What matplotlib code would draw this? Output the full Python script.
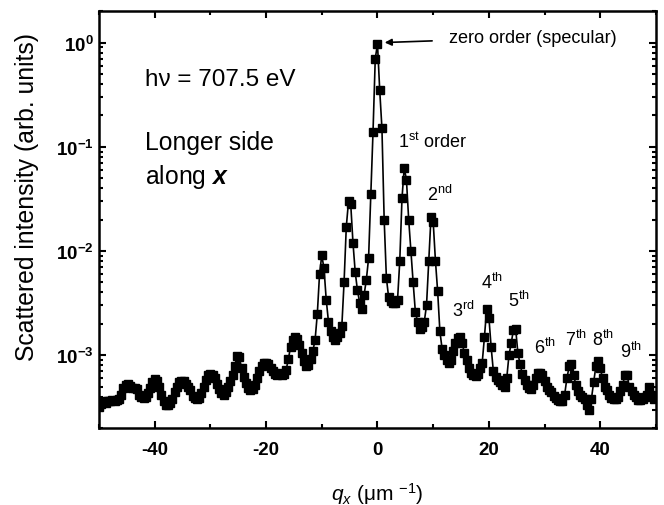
import matplotlib
matplotlib.use("Agg")
import matplotlib.pyplot as plt
import numpy as np
from matplotlib.ticker import MultipleLocator, LogLocator, FuncFormatter, NullFormatter

plt.rcParams['font.family'] = ['Liberation Sans', 'DejaVu Sans']
plt.rcParams['axes.unicode_minus'] = False
plt.rcParams['mathtext.fontset'] = 'custom'
plt.rcParams['mathtext.rm'] = 'Liberation Sans'
plt.rcParams['mathtext.it'] = 'Liberation Sans:italic'
plt.rcParams['mathtext.bf'] = 'Liberation Sans:bold'
plt.rcParams['mathtext.bfit'] = 'Liberation Sans:italic:bold'

# q_x sampled every 0.4 um^-1 from -50 to 50
q_start, q_stop, q_step = -50.0, 50.0, 0.4

# scattered intensity, in units of 1e-3 (10 points per row = 4 um^-1)
intensity_e3 = [
    0.32, 0.34, 0.36, 0.35, 0.36, 0.36, 0.37, 0.36, 0.37, 0.38,   # -50.0 .. -46.4
    0.42, 0.48, 0.52, 0.53, 0.51, 0.49, 0.48, 0.47, 0.42, 0.40,   # -46.0 .. -42.4
    0.39, 0.40, 0.43, 0.49, 0.55, 0.59, 0.57, 0.50, 0.42, 0.36,   # -42.0 .. -38.4
    0.33, 0.33, 0.35, 0.38, 0.44, 0.50, 0.55, 0.57, 0.56, 0.53,   # -38.0 .. -34.4
    0.50, 0.46, 0.41, 0.39, 0.38, 0.39, 0.43, 0.50, 0.58, 0.64,   # -34.0 .. -30.4
    0.66, 0.65, 0.60, 0.53, 0.47, 0.43, 0.42, 0.44, 0.50, 0.56,   # -30.0 .. -26.4
    0.64, 0.78, 0.98, 0.96, 0.75, 0.62, 0.54, 0.49, 0.46, 0.47,   # -26.0 .. -22.4
    0.52, 0.60, 0.70, 0.78, 0.84, 0.85, 0.82, 0.76, 0.70, 0.66,   # -22.0 .. -18.4
    0.65, 0.67, 0.64, 0.66, 0.72, 0.92, 1.20, 1.40, 1.50, 1.42,   # -18.0 .. -14.4
    1.25, 1.05, 0.88, 0.79, 0.80, 0.92, 1.10, 1.40, 2.5, 6.0,     # -14.0 .. -10.4
    9.1, 6.8, 3.4, 2.1, 1.7, 1.5, 1.4, 1.5, 1.65, 1.9,            # -10.0 .. -6.4
    5.0, 17, 30, 28, 12, 6.3, 4.2, 3.2, 2.8, 3.8,                 # -6.0 .. -2.4
    5.3, 8.5, 35, 140, 700, 970, 350, 150, 20, 5.5,               # -2.0 .. 1.6
    3.6, 3.3, 3.2, 3.2, 3.4, 8.0, 32, 63, 48, 20,                 # 2.0 .. 5.6
    10, 5.0, 2.6, 2.1, 1.8, 1.85, 2.1, 3.0, 8.0, 21,              # 6.0 .. 9.6
    19, 8.1, 4.1, 1.7, 1.15, 1.0, 0.9, 0.85, 0.9, 1.1,            # 10.0 .. 13.6
    1.3, 1.45, 1.5, 1.3, 1.05, 0.9, 0.76, 0.68, 0.65, 0.63,       # 14.0 .. 17.6
    0.66, 0.75, 0.85, 1.5, 2.8, 2.3, 1.2, 0.7, 0.62, 0.58,        # 18.0 .. 21.6
    0.55, 0.52, 0.50, 0.60, 1.0, 1.3, 1.75, 1.8, 1.05, 0.82,      # 22.0 .. 25.6
    0.66, 0.58, 0.52, 0.48, 0.47, 0.52, 0.60, 0.67, 0.68, 0.64,   # 26.0 .. 29.6
    0.57, 0.50, 0.46, 0.44, 0.41, 0.39, 0.37, 0.36, 0.36, 0.42,   # 30.0 .. 33.6
    0.60, 0.78, 0.82, 0.65, 0.52, 0.45, 0.42, 0.40, 0.38, 0.33,   # 34.0 .. 37.6
    0.30, 0.38, 0.55, 0.78, 0.88, 0.75, 0.60, 0.50, 0.46, 0.42,   # 38.0 .. 41.6
    0.39, 0.38, 0.38, 0.40, 0.45, 0.52, 0.64, 0.65, 0.50, 0.45,   # 42.0 .. 45.6
    0.42, 0.40, 0.37, 0.37, 0.38, 0.40, 0.42, 0.50, 0.42, 0.38,   # 46.0 .. 49.6
    0.40,                                                         # 50.0
]

# diffraction order labels: text, q position, intensity position
order_labels = ['1$^{\\rm st}$ order', '2$^{\\rm nd}$', '3$^{\\rm rd}$', '4$^{\\rm th}$',
                '5$^{\\rm th}$', '6$^{\\rm th}$', '7$^{\\rm th}$', '8$^{\\rm th}$', '9$^{\\rm th}$']
order_q = [3.6, 8.95, 13.3, 18.5, 23.5, 28.1, 33.6, 38.5, 43.5]
order_y = [0.114, 0.0355, 0.0027, 0.0051, 0.0034, 0.0012, 0.00142, 0.00142, 0.00109]

q = np.arange(len(intensity_e3)) * q_step + q_start
intensity = np.array(intensity_e3) * 1e-3

fig = plt.figure(figsize=(6.64, 5.06), dpi=100)
ax = fig.add_axes([0.149, 0.152, 0.839, 0.824])

ax.plot(q, intensity, color='black', lw=1.2, marker='s', markersize=5.5,
        markerfacecolor='black', markeredgecolor='black')

ax.set_yscale('log')
ax.set_xlim(-50, 50)
ax.set_ylim(2e-4, 2)

ax.xaxis.set_major_locator(MultipleLocator(20))
ax.xaxis.set_minor_locator(MultipleLocator(10))
ax.yaxis.set_major_locator(LogLocator(base=10, numticks=10))
ax.yaxis.set_minor_locator(LogLocator(base=10, subs=np.arange(2, 10), numticks=20))
ax.yaxis.set_major_formatter(FuncFormatter(lambda v, p: '$\\mathbf{10^{%d}}$' % round(np.log10(v))))
ax.yaxis.set_minor_formatter(NullFormatter())

ax.tick_params(which='both', direction='in', top=True, right=True, width=1.5)
ax.tick_params(which='major', length=5, labelsize=13.5)
ax.tick_params(axis='x', which='major', pad=9)
ax.tick_params(axis='y', which='major', pad=4)
ax.tick_params(which='minor', length=3)
plt.setp(ax.get_xticklabels(), fontweight='bold')
for s in ax.spines.values():
    s.set_linewidth(1.8)

ax.set_xlabel('$q_x$ (μm $^{-1}$)', fontsize=15, labelpad=16)
ax.set_ylabel('Scattered intensity (arb. units)', fontsize=17.8)
ax.yaxis.set_label_coords(-0.107, 0.557)

ax.text(0.083, 0.838, 'hν = 707.5 eV', transform=ax.transAxes, fontsize=17.5, va='center')
ax.text(0.083, 0.686, 'Longer side', transform=ax.transAxes, fontsize=17.8, va='center')
ax.text(0.083, 0.605, 'along $\\mathbfit{x}$', transform=ax.transAxes, fontsize=17.8, va='center')

ax.annotate('zero order (specular)', xy=(1.3, 1.0), xytext=(12.8, 1.12),
            fontsize=13.1, va='center',
            arrowprops=dict(arrowstyle='-|>', color='black', lw=1.2,
                            shrinkA=10, shrinkB=0, mutation_scale=10))

for label, xq, yv in zip(order_labels, order_q, order_y):
    ax.text(xq, yv, label, fontsize=13, va='center', ha='left')

fig.savefig('out.png', dpi=100)
